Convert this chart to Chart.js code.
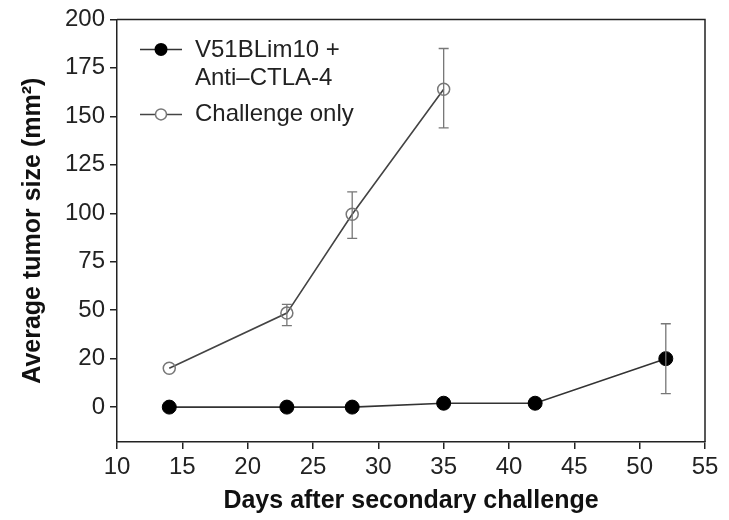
<!DOCTYPE html>
<html>
<head>
<meta charset="utf-8">
<script src="https://cdn.jsdelivr.net/npm/chart.js@4"></script>
<style>
  html, body { margin: 0; padding: 0; background: #fff; }
  #wrap { width: 729px; height: 520px; }
</style>
</head>
<body>
<div id="wrap"><canvas id="tumor_chart"></canvas></div>
<script>
// values
const days = [14, 23, 28, 35, 42, 52];
const comboMean = [0, 0, 0, 2, 2, 25];
const comboHi = [0, 0, 0, 2, 2, 43];
const comboLo = [0, 0, 0, 2, 2, 7];

const challengeDays = [14, 23, 28, 35];
const challengeMean = [20, 48.5, 99.5, 164];
const challengeHi = [22, 53, 111, 185];
const challengeLo = [18, 42, 87, 144];

const xTicks = [10, 15, 20, 25, 30, 35, 40, 45, 50, 55];
const yTicks = [0, 25, 50, 75, 100, 125, 150, 175, 200];
const yTickLabels = ['0', '20', '50', '75', '100', '125', '150', '175', '200'];

const legendNames = [['V51BLim10 +', 'Anti\u2013CTLA-4'], ['Challenge only']];

const ink = '#222';
const font = 'Arial, "Liberation Sans", sans-serif';

const toPts = (xs, ys) => xs.map((x, i) => ({ x: x, y: ys[i] }));

// error bars drawn through the chart's scales
const errorBars = {
    id: 'errorBars',
    afterDatasetsDraw(chart) {
        const ctx = chart.ctx;
        const xs = chart.scales.x, ys = chart.scales.y;
        const sets = [[days, comboHi, comboLo], [challengeDays, challengeHi, challengeLo]];
        ctx.save();
        ctx.strokeStyle = '#777';
        ctx.lineWidth = 1.3;
        sets.forEach(([xv, hi, lo]) => {
            xv.forEach((d, i) => {
                if (hi[i] - lo[i] < 5) return;
                const px = xs.getPixelForValue(d);
                const top = ys.getPixelForValue(hi[i]);
                const bot = ys.getPixelForValue(lo[i]);
                ctx.beginPath();
                ctx.moveTo(px, top); ctx.lineTo(px, bot);
                ctx.moveTo(px - 5, top); ctx.lineTo(px + 5, top);
                ctx.moveTo(px - 5, bot); ctx.lineTo(px + 5, bot);
                ctx.stroke();
            });
        });
        ctx.restore();
    }
};

// box around the plot and the in-plot legend
const frameAndLegend = {
    id: 'frameAndLegend',
    afterDraw(chart) {
        const ctx = chart.ctx;
        const a = chart.chartArea;
        ctx.save();
        ctx.strokeStyle = ink;
        ctx.lineWidth = 1.5;
        ctx.beginPath();
        ctx.moveTo(a.left, a.top); ctx.lineTo(a.right, a.top); ctx.lineTo(a.right, a.bottom);
        ctx.stroke();

        const lx = a.left + 23, tx = a.left + 78;
        ctx.font = '24px ' + font;
        ctx.fillStyle = ink;
        ctx.textBaseline = 'middle';
        // first entry
        let y = a.top + 30;
        ctx.strokeStyle = '#333';
        ctx.lineWidth = 1.5;
        ctx.beginPath(); ctx.moveTo(lx, y); ctx.lineTo(lx + 42, y); ctx.stroke();
        ctx.beginPath(); ctx.arc(lx + 21, y, 6.5, 0, Math.PI * 2); ctx.fillStyle = '#000'; ctx.fill();
        ctx.fillStyle = ink;
        ctx.fillText(legendNames[0][0], tx, y + 1);
        ctx.fillText(legendNames[0][1], tx, y + 29);
        // second entry
        y = a.top + 95;
        ctx.strokeStyle = '#444';
        ctx.beginPath(); ctx.moveTo(lx, y); ctx.lineTo(lx + 42, y); ctx.stroke();
        ctx.beginPath(); ctx.arc(lx + 21, y, 5.5, 0, Math.PI * 2);
        ctx.fillStyle = '#fff'; ctx.fill(); ctx.strokeStyle = '#777'; ctx.stroke();
        ctx.fillStyle = ink;
        ctx.fillText(legendNames[1][0], tx, y);
        ctx.restore();
    }
};

const chart = new Chart(document.getElementById('tumor_chart'), {
    type: 'line',
    data: {
        datasets: [{
            label: legendNames[0].join(' '),
            data: toPts(days, comboMean),
            borderColor: '#333',
            borderWidth: 1.6,
            pointRadius: 7,
            pointBackgroundColor: '#000',
            pointBorderColor: '#000',
            pointBorderWidth: 1
        }, {
            label: legendNames[1][0],
            data: toPts(challengeDays, challengeMean),
            borderColor: '#444',
            borderWidth: 1.6,
            pointRadius: 6,
            pointBackgroundColor: 'rgba(255,255,255,0)',
            pointBorderColor: '#777',
            pointBorderWidth: 1.5
        }]
    },
    plugins: [errorBars, frameAndLegend],
    options: {
        responsive: true,
        maintainAspectRatio: false,
        animation: false,
        layout: { padding: { top: 17, right: 24, left: 0, bottom: 0 } },
        plugins: { legend: { display: false }, tooltip: { enabled: false } },
        scales: {
            x: {
                type: 'linear',
                min: 10, max: 55,
                afterBuildTicks: s => { s.ticks = xTicks.map(v => ({ value: v })); },
                afterFit: s => { s.height = 78; },
                grid: { drawOnChartArea: false, tickLength: 7, color: ink, lineWidth: 1.5 },
                border: { color: ink, width: 1.5 },
                ticks: { color: ink, font: { size: 24, family: font }, padding: 4, maxRotation: 0 },
                title: {
                    display: true,
                    text: 'Days after secondary challenge',
                    color: '#111',
                    font: { size: 25, weight: 'bold', family: font },
                    padding: { top: 0 }
                }
            },
            y: {
                min: -18, max: 200,
                afterBuildTicks: s => { s.ticks = yTicks.map(v => ({ value: v })); },
                afterFit: s => { s.width = 117; },
                grid: { drawOnChartArea: false, tickLength: 7, color: ink, lineWidth: 1.5 },
                border: { color: ink, width: 1.5 },
                ticks: {
                    color: ink,
                    font: { size: 24, family: font },
                    padding: 5,
                    callback: v => yTickLabels[yTicks.indexOf(v)]
                },
                title: {
                    display: true,
                    text: 'Average tumor size (mm\u00b2)',
                    color: '#111',
                    font: { size: 25, weight: 'bold', family: font },
                    padding: { top: 18, bottom: 0 }
                }
            }
        }
    }
});
</script>
</body>
</html>
